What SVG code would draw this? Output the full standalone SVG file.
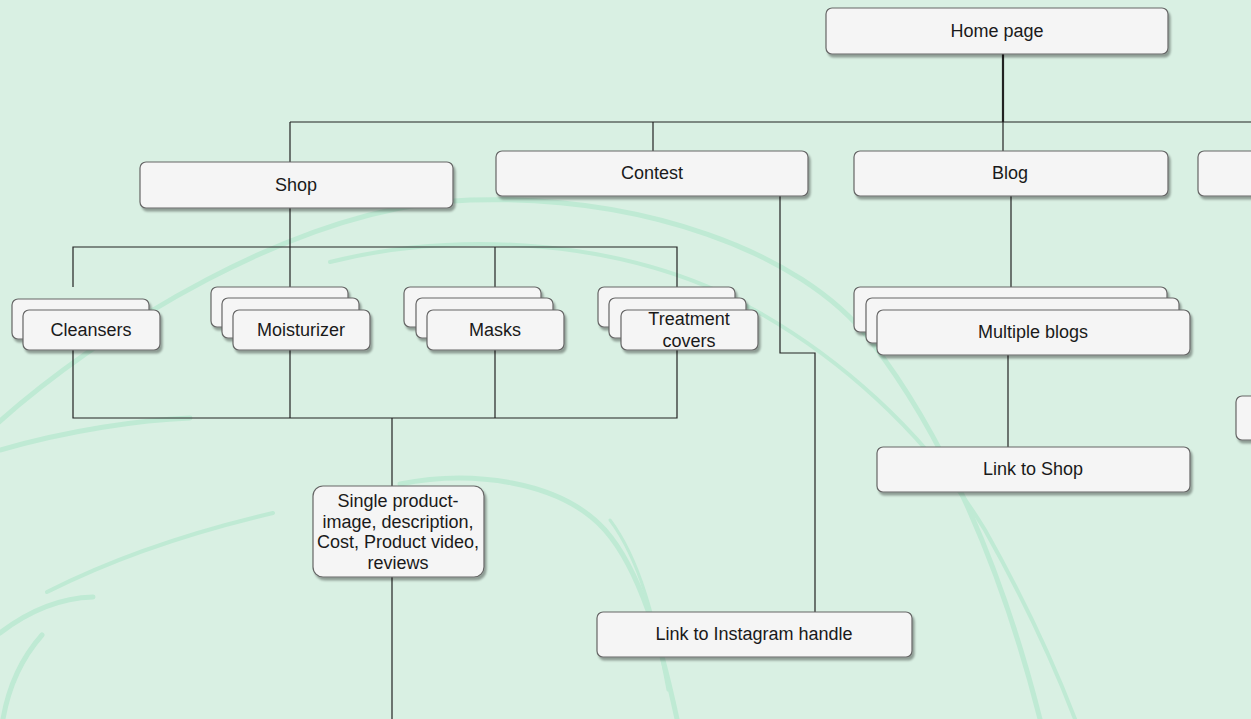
<svg xmlns="http://www.w3.org/2000/svg" width="1251" height="719" viewBox="0 0 1251 719">
<defs>
<filter id="sh" x="-10%" y="-20%" width="130%" height="160%">
<feDropShadow dx="2" dy="3" stdDeviation="1" flood-color="#000" flood-opacity="0.35"/>
</filter>
</defs>
<style>
.n{fill:#f5f5f5;stroke:#666;stroke-width:1.2;filter:url(#sh)}
.t{font-family:"Liberation Sans",Arial,Helvetica,sans-serif;font-size:18px;fill:#1a1a1a;text-anchor:middle}
.c{fill:none;stroke:#222;stroke-width:1.2}
.thick{stroke-width:2.2}
.sw{fill:none;stroke:#bfead4;stroke-linecap:round}
</style>
<rect width="1251" height="719" fill="#d9f0e3"/>
<g id="background">
<path class="sw" stroke-width="5" d="M-10,430 C100,330 300,205 470,200 C640,195 800,250 870,340 C940,430 1000,560 1040,719"/>
<path class="sw" stroke-width="4" d="M330,262 C450,232 600,238 720,292 C840,350 930,440 985,530 C1030,610 1060,680 1075,719"/>
<path class="sw" stroke-width="5" d="M0,450 C70,430 140,420 190,418"/>
<path class="sw" stroke-width="4" d="M47,592 C120,555 200,530 273,513"/>
<path class="sw" stroke-width="5" d="M0,633 C30,610 60,598 93,597"/>
<path class="sw" stroke-width="5" d="M42,635 C20,660 8,690 3,719"/>
<path class="sw" stroke-width="5" d="M400,484 C470,470 560,480 605,530 C640,570 660,640 677,719"/>
<path class="sw" stroke-width="3" d="M610,520 C640,560 655,620 668,690"/>
</g>
<g id="connectors">
<line class="c thick" x1="1003" y1="54" x2="1003" y2="122"/>
<line class="c" x1="290" y1="122" x2="1251" y2="122"/>
<line class="c" x1="290" y1="122" x2="290" y2="162"/>
<line class="c" x1="653" y1="122" x2="653" y2="151"/>
<line class="c" x1="1003" y1="122" x2="1003" y2="151"/>
<line class="c" x1="290" y1="208" x2="290" y2="287"/>
<polyline class="c" points="73,287 73,247 677,247 677,287"/>
<line class="c" x1="495" y1="247" x2="495" y2="287"/>
<polyline class="c" points="73,350 73,418 677,418 677,350"/>
<line class="c" x1="290" y1="350" x2="290" y2="418"/>
<line class="c" x1="495" y1="350" x2="495" y2="418"/>
<line class="c" x1="392" y1="418" x2="392" y2="486"/>
<line class="c" x1="392" y1="577" x2="392" y2="719"/>
<polyline class="c" points="780,196 780,353 815,353 815,612"/>
<line class="c" x1="1011" y1="196" x2="1011" y2="287"/>
<line class="c" x1="1008" y1="355" x2="1008" y2="447"/>
</g>
<g id="home"><rect class="n" x="826" y="8" width="342" height="46" rx="6"/><text class="t" x="997" y="37">Home page</text></g>
<g id="shop"><rect class="n" x="140" y="162" width="313" height="46" rx="6"/><text class="t" x="296" y="191">Shop</text></g>
<g id="contest"><rect class="n" x="496" y="151" width="312" height="45" rx="6"/><text class="t" x="652" y="179">Contest</text></g>
<g id="blog"><rect class="n" x="854" y="151" width="314" height="45" rx="6"/><text class="t" x="1010" y="179">Blog</text></g>
<g id="right-node"><rect class="n" x="1198" y="151" width="80" height="45" rx="6"/></g>
<g id="cleansers">
<rect class="n" x="12" y="299" width="137" height="40" rx="6"/>
<rect class="n" x="23" y="310" width="137" height="40" rx="6"/>
<text class="t" x="91" y="336">Cleansers</text>
</g>
<g id="moisturizer">
<rect class="n" x="211" y="287" width="137" height="40" rx="6"/>
<rect class="n" x="222" y="298" width="137" height="40" rx="6"/>
<rect class="n" x="233" y="310" width="137" height="40" rx="6"/>
<text class="t" x="301" y="336">Moisturizer</text>
</g>
<g id="masks">
<rect class="n" x="404" y="287" width="137" height="40" rx="6"/>
<rect class="n" x="416" y="298" width="137" height="40" rx="6"/>
<rect class="n" x="427" y="310" width="137" height="40" rx="6"/>
<text class="t" x="495" y="336">Masks</text>
</g>
<g id="treatment">
<rect class="n" x="598" y="287" width="137" height="40" rx="6"/>
<rect class="n" x="609" y="298" width="137" height="40" rx="6"/>
<rect class="n" x="621" y="310" width="137" height="40" rx="6"/>
<text class="t" x="689" y="325">Treatment</text>
<text class="t" x="689" y="347">covers</text>
</g>
<g id="multiple-blogs">
<rect class="n" x="854" y="287" width="313" height="45" rx="6"/>
<rect class="n" x="866" y="298" width="313" height="45" rx="6"/>
<rect class="n" x="877" y="310" width="313" height="45" rx="6"/>
<text class="t" x="1033" y="338">Multiple blogs</text>
</g>
<g id="link-shop"><rect class="n" x="877" y="447" width="313" height="45" rx="6"/><text class="t" x="1033" y="475">Link to Shop</text></g>
<g id="right-node-2"><rect class="n" x="1236" y="396" width="60" height="44" rx="6"/></g>
<g id="single-product">
<rect class="n" x="313" y="486" width="171" height="91" rx="10"/>
<text class="t" x="398" y="507">Single product-</text>
<text class="t" x="398" y="528">image, description,</text>
<text class="t" x="398" y="548">Cost, Product video,</text>
<text class="t" x="398" y="569">reviews</text>
</g>
<g id="link-instagram"><rect class="n" x="597" y="612" width="315" height="45" rx="6"/><text class="t" x="754" y="640">Link to Instagram handle</text></g>
</svg>
